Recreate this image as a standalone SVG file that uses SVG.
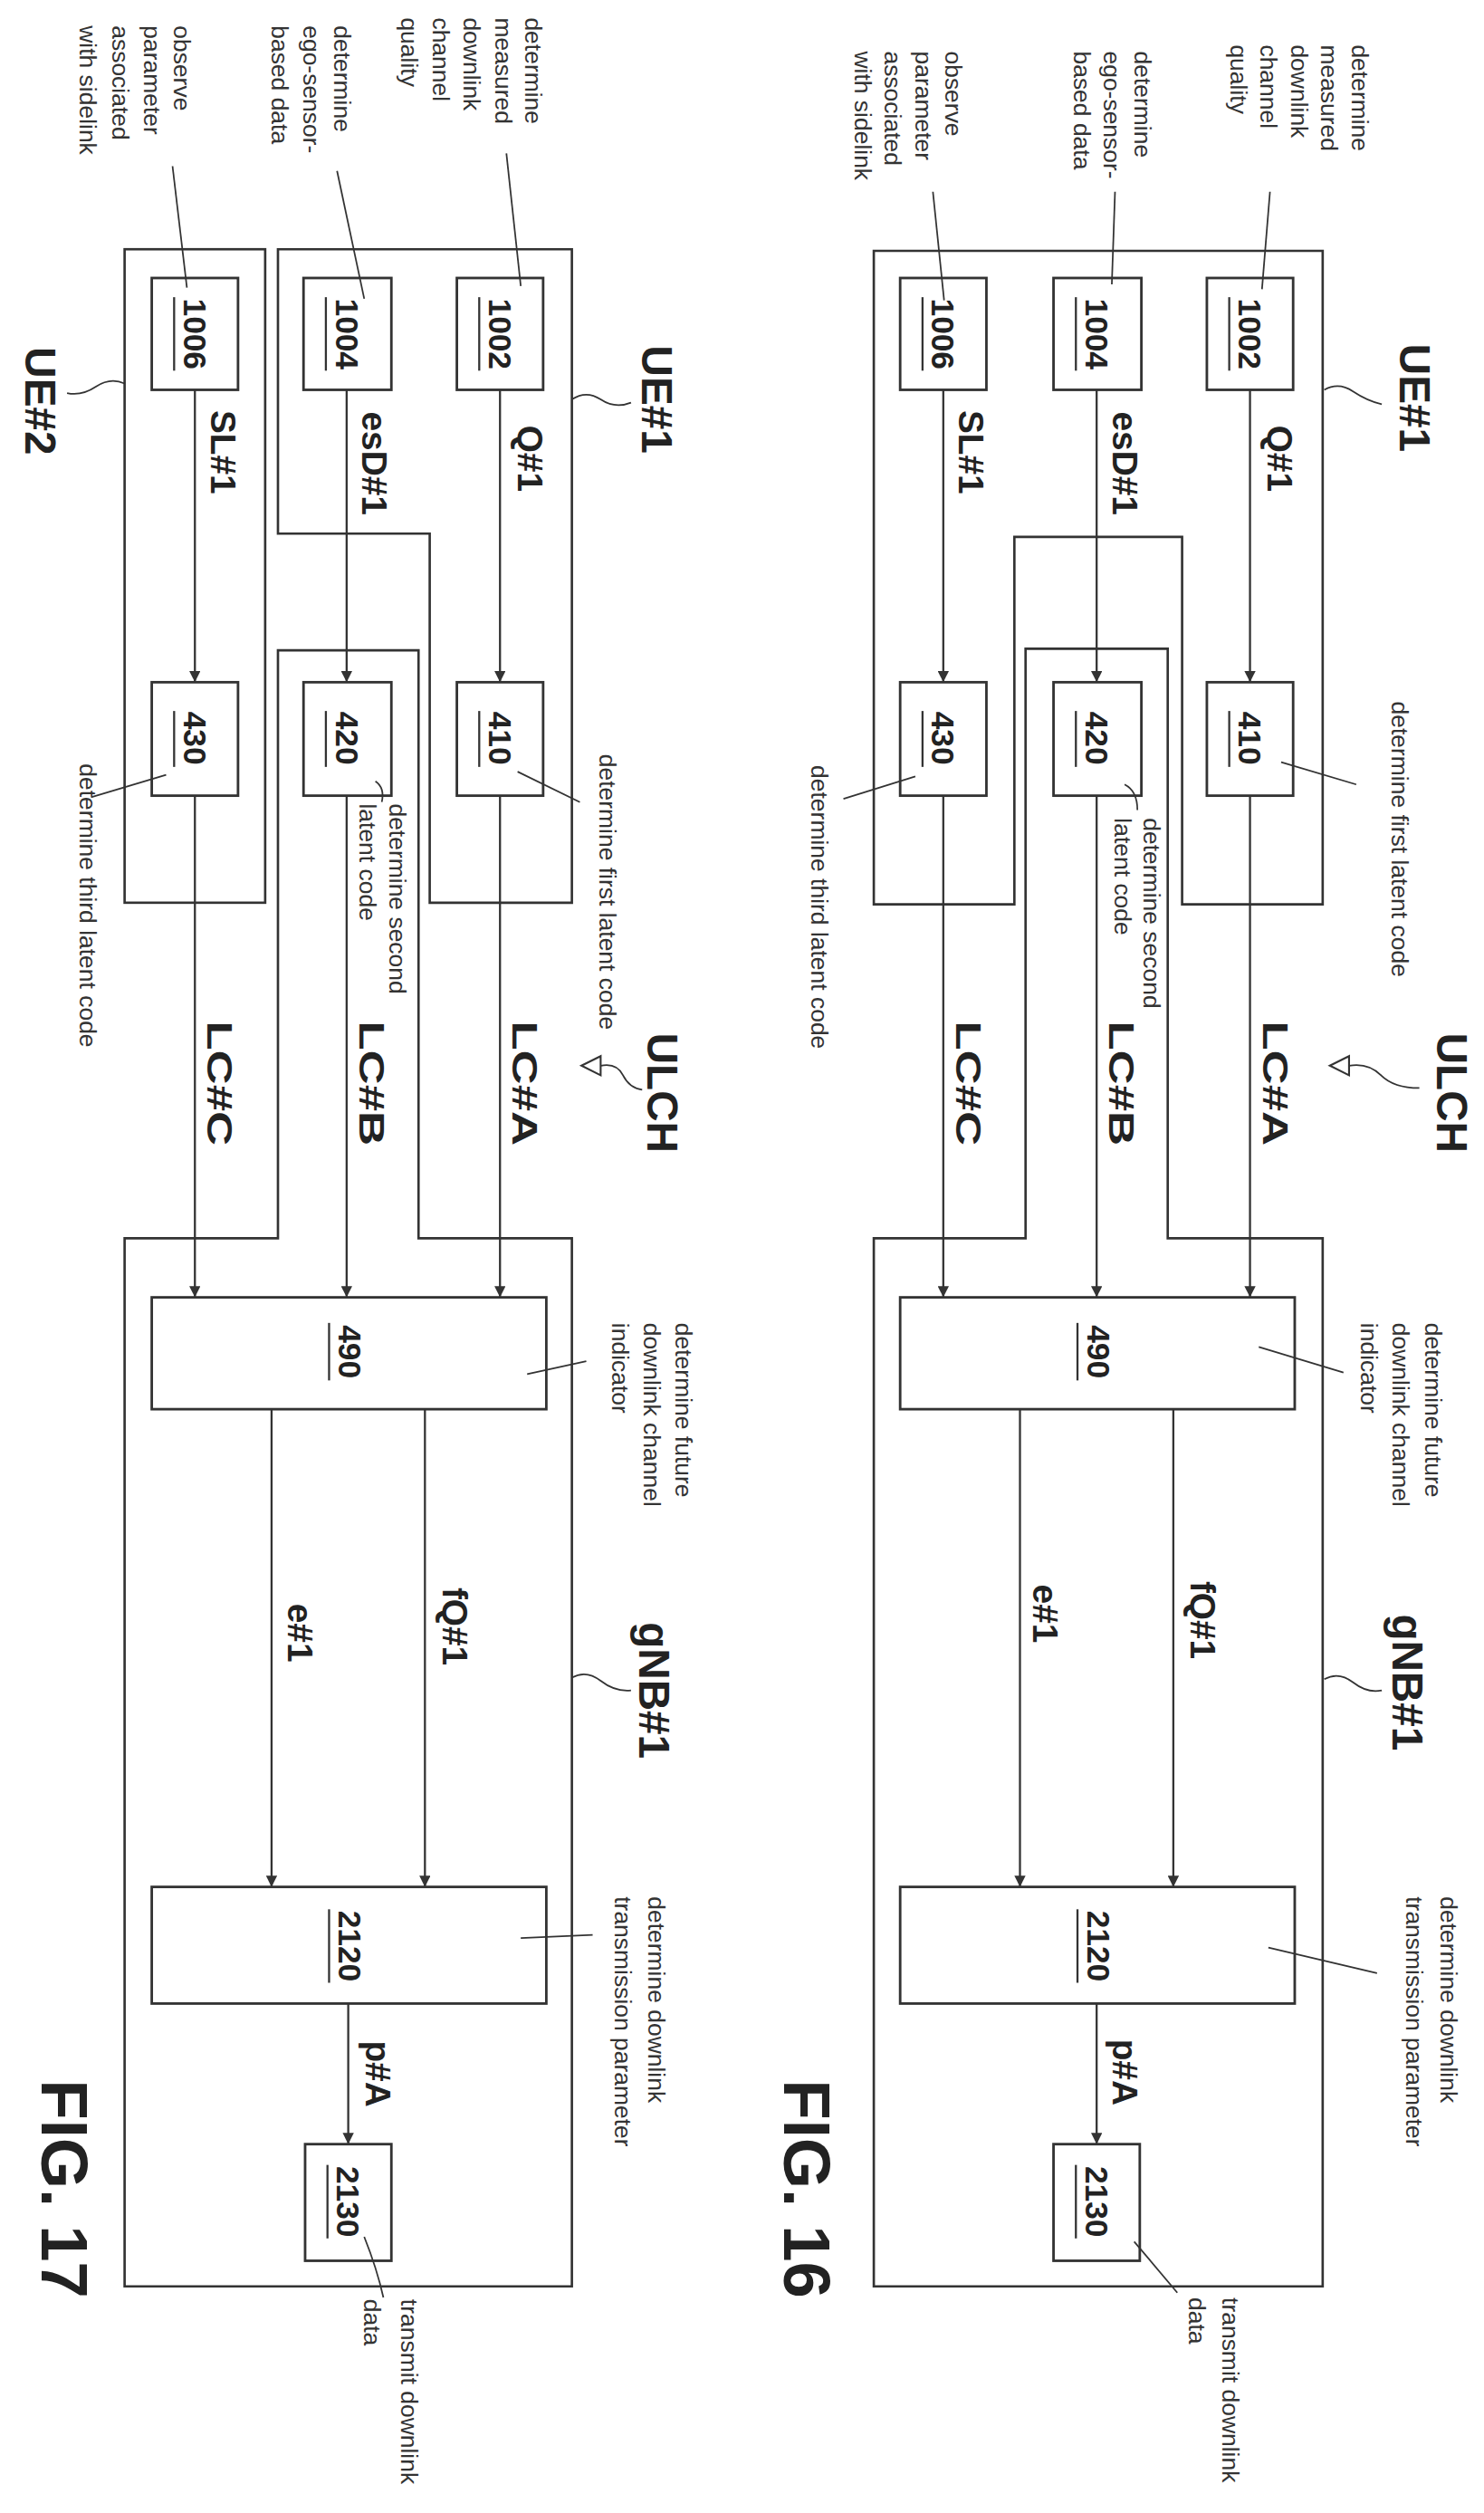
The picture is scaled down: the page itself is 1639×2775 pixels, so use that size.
<svg xmlns="http://www.w3.org/2000/svg" width="1639" height="2775" viewBox="0 0 1639 2775">
<style>
.bx{fill:none;stroke:#333;stroke-width:1.5}
.nd{fill:#fff;stroke:#333;stroke-width:1.6}
.cn{stroke:#333;stroke-width:1.3;fill:none}
.ld{stroke:#333;stroke-width:1;fill:none}
.d{font-family:"Liberation Sans",Arial,sans-serif;font-size:15px;fill:#333}
.b{font-family:"Liberation Sans",Arial,sans-serif;font-size:22px;font-weight:bold;fill:#222}
.n{font-family:"Liberation Sans",Arial,sans-serif;font-size:20px;font-weight:bold;fill:#222;text-anchor:middle}
.big{font-family:"Liberation Sans",Arial,sans-serif;font-size:27px;font-weight:bold;fill:#222}
.fig{font-family:"Liberation Sans",Arial,sans-serif;font-size:41px;font-weight:bold;fill:#222}
</style>
<defs>
<marker id="ah" markerUnits="userSpaceOnUse" markerWidth="8" markerHeight="7" refX="7" refY="3.5" orient="auto"><path d="M0,0 L7,3.5 L0,7 z" fill="#333"/></marker>
<g id="common">
</g>
</defs>
<rect width="1639" height="2775" fill="#fff"/>
<g transform="scale(1.7643)">
<!-- FIG 17 -->
<g id="fig17">
 <g id="f17-containers">
  <rect id="f17-UE2" class="bx" x="78" y="156" width="88" height="409"/>
  <path id="f17-UE1" class="bx" d="M174,156 H358 V565 H269 V334 H174 Z"/>
  <path id="f17-gNB1" class="bx" d="M78,775 H174 V407 H262 V775 H358 V1431 H78 Z"/>
 </g>
 <g id="f17-connectors">
  <line class="cn" x1="122" y1="244" x2="122" y2="427" marker-end="url(#ah)"/>
  <line class="cn" x1="217" y1="244" x2="217" y2="427" marker-end="url(#ah)"/>
  <line class="cn" x1="313" y1="244" x2="313" y2="427" marker-end="url(#ah)"/>
  <line class="cn" x1="122" y1="498" x2="122" y2="812" marker-end="url(#ah)"/>
  <line class="cn" x1="217" y1="498" x2="217" y2="812" marker-end="url(#ah)"/>
  <line class="cn" x1="313" y1="498" x2="313" y2="812" marker-end="url(#ah)"/>
  <line class="cn" x1="170" y1="882" x2="170" y2="1181" marker-end="url(#ah)"/>
  <line class="cn" x1="266" y1="882" x2="266" y2="1181" marker-end="url(#ah)"/>
  <line class="cn" x1="218" y1="1254" x2="218" y2="1342" marker-end="url(#ah)"/>
  <text class="b" transform="translate(324,287) rotate(90)" text-anchor="middle">Q#1</text>
  <text class="b" transform="translate(227,290) rotate(90)" text-anchor="middle">esD#1</text>
  <text class="b" transform="translate(132,283) rotate(90)" text-anchor="middle">SL#1</text>
  <text class="b" transform="translate(321,678) rotate(90)" text-anchor="middle" textLength="78" lengthAdjust="spacingAndGlyphs">LC#A</text>
  <text class="b" transform="translate(225,678) rotate(90)" text-anchor="middle" textLength="78" lengthAdjust="spacingAndGlyphs">LC#B</text>
  <text class="b" transform="translate(130,678) rotate(90)" text-anchor="middle" textLength="78" lengthAdjust="spacingAndGlyphs">LC#C</text>
  <text class="b" transform="translate(277,1018) rotate(90)" text-anchor="middle">fQ#1</text>
  <text class="b" transform="translate(180,1022) rotate(90)" text-anchor="middle">e#1</text>
  <text class="b" transform="translate(229,1298) rotate(90)" text-anchor="middle">p#A</text>
 </g>
 <g id="f17-n1002"><rect class="nd" x="286" y="174" width="54" height="70"/><text class="n" transform="translate(306,209) rotate(90)">1002</text><line class="cn" x1="300" y1="186" x2="300" y2="232"/></g>
 <g id="f17-n1004"><rect class="nd" x="190" y="174" width="55" height="70"/><text class="n" transform="translate(210,209) rotate(90)">1004</text><line class="cn" x1="204" y1="186" x2="204" y2="232"/></g>
 <g id="f17-n1006"><rect class="nd" x="95" y="174" width="54" height="70"/><text class="n" transform="translate(115,209) rotate(90)">1006</text><line class="cn" x1="109" y1="186" x2="109" y2="232"/></g>
 <g id="f17-n410"><rect class="nd" x="286" y="427" width="54" height="71"/><text class="n" transform="translate(306,462) rotate(90)">410</text><line class="cn" x1="300" y1="445" x2="300" y2="480"/></g>
 <g id="f17-n420"><rect class="nd" x="190" y="427" width="55" height="71"/><text class="n" transform="translate(210,462) rotate(90)">420</text><line class="cn" x1="204" y1="445" x2="204" y2="480"/></g>
 <g id="f17-n430"><rect class="nd" x="95" y="427" width="54" height="71"/><text class="n" transform="translate(115,462) rotate(90)">430</text><line class="cn" x1="109" y1="445" x2="109" y2="480"/></g>
 <g id="f17-n490"><rect class="nd" x="95" y="812" width="247" height="70"/><text class="n" transform="translate(212,846) rotate(90)">490</text><line class="cn" x1="206" y1="828" x2="206" y2="864"/></g>
 <g id="f17-n2120"><rect class="nd" x="95" y="1181" width="247" height="73"/><text class="n" transform="translate(212,1218) rotate(90)">2120</text><line class="cn" x1="206" y1="1195" x2="206" y2="1241"/></g>
 <g id="f17-n2130"><rect class="nd" x="191" y="1342" width="54" height="73"/><text class="n" transform="translate(211,1378) rotate(90)">2130</text><line class="cn" x1="205" y1="1355" x2="205" y2="1401"/></g>
 <g id="f17-labels">
  <text class="big" transform="translate(402,250) rotate(90)" text-anchor="middle">UE#1</text>
  <path class="ld" d="M358,250 q9,-6 18,0 t19,2"/>
  <text class="big" transform="translate(16,251) rotate(90)" text-anchor="middle">UE#2</text>
  <path class="ld" d="M78,240 q-9,-4 -18,2 t-18,4"/>
  <text class="big" transform="translate(400,1058) rotate(90)" text-anchor="middle">gNB#1</text>
  <path class="ld" d="M358,1050 q9,-5 18,2 t19,6"/>
  <text class="big" transform="translate(405,684) rotate(90)" text-anchor="middle">ULCH</text>
  <polygon points="364,667 376,661 376,673" fill="#fff" stroke="#333" stroke-width="1.2"/>
  <path class="ld" d="M376,667 q10,-2 14,6 t12,9"/>
  <text class="fig" transform="translate(26,1370) rotate(90)" text-anchor="middle">FIG. 17</text>
  <text class="d" transform="translate(329,11) rotate(90)">determine</text>
  <text class="d" transform="translate(310,11) rotate(90)">measured</text>
  <text class="d" transform="translate(290,11) rotate(90)">downlink</text>
  <text class="d" transform="translate(271,11) rotate(90)">channel</text>
  <text class="d" transform="translate(251,11) rotate(90)">quality</text>
  <line class="ld" x1="317" y1="96" x2="326" y2="179"/>
  <text class="d" transform="translate(209,16) rotate(90)">determine</text>
  <text class="d" transform="translate(190,16) rotate(90)">ego-sensor-</text>
  <text class="d" transform="translate(170,16) rotate(90)">based data</text>
  <line class="ld" x1="211" y1="107" x2="228" y2="187"/>
  <text class="d" transform="translate(109,16) rotate(90)">observe</text>
  <text class="d" transform="translate(90,16) rotate(90)">parameter</text>
  <text class="d" transform="translate(70,16) rotate(90)">associated</text>
  <text class="d" transform="translate(50,16) rotate(90)">with sidelink</text>
  <line class="ld" x1="108" y1="104" x2="117" y2="180"/>
  <text class="d" transform="translate(375,472) rotate(90)">determine first latent code</text>
  <line class="ld" x1="324" y1="483" x2="363" y2="502"/>
  <text class="d" transform="translate(244,503) rotate(90)">determine second</text>
  <text class="d" transform="translate(225,503) rotate(90)">latent code</text>
  <path class="ld" d="M235,489 q6,4 4,13"/>
  <text class="d" transform="translate(50,478) rotate(90)">determine third latent code</text>
  <line class="ld" x1="104" y1="485" x2="57" y2="499"/>
  <text class="d" transform="translate(423,828) rotate(90)">determine future</text>
  <text class="d" transform="translate(403,828) rotate(90)">downlink channel</text>
  <text class="d" transform="translate(383,828) rotate(90)">indicator</text>
  <line class="ld" x1="330" y1="860" x2="367" y2="852"/>
  <text class="d" transform="translate(406,1187) rotate(90)">determine downlink</text>
  <text class="d" transform="translate(385,1187) rotate(90)">transmission parameter</text>
  <line class="ld" x1="326" y1="1213" x2="371" y2="1211"/>
  <text class="d" transform="translate(251,1439) rotate(90)">transmit downlink</text>
  <text class="d" transform="translate(228,1439) rotate(90)">data</text>
  <path class="ld" d="M228,1400 q8,20 12,38"/>
 </g>
</g>
<!-- FIG 16 -->
<g id="fig16" transform="translate(468.5,0)">
 <g id="f16-containers">
  <path id="f16-UE1" class="bx" d="M78.5,157 H359.5 V566 H271.5 V336 H166.5 V566 H78.5 Z"/>
  <path id="f16-gNB1" class="bx" d="M78.5,775 H173.5 V406 H262.5 V775 H359.5 V1431 H78.5 Z"/>
 </g>
 <g id="f16-connectors">
  <line class="cn" x1="122" y1="244" x2="122" y2="427" marker-end="url(#ah)"/>
  <line class="cn" x1="218" y1="244" x2="218" y2="427" marker-end="url(#ah)"/>
  <line class="cn" x1="314" y1="244" x2="314" y2="427" marker-end="url(#ah)"/>
  <line class="cn" x1="122" y1="498" x2="122" y2="812" marker-end="url(#ah)"/>
  <line class="cn" x1="218" y1="498" x2="218" y2="812" marker-end="url(#ah)"/>
  <line class="cn" x1="314" y1="498" x2="314" y2="812" marker-end="url(#ah)"/>
  <line class="cn" x1="170" y1="882" x2="170" y2="1181" marker-end="url(#ah)"/>
  <line class="cn" x1="266" y1="882" x2="266" y2="1181" marker-end="url(#ah)"/>
  <line class="cn" x1="218" y1="1254" x2="218" y2="1342" marker-end="url(#ah)"/>
  <text class="b" transform="translate(325,287) rotate(90)" text-anchor="middle">Q#1</text>
  <text class="b" transform="translate(228,290) rotate(90)" text-anchor="middle">esD#1</text>
  <text class="b" transform="translate(132,283) rotate(90)" text-anchor="middle">SL#1</text>
  <text class="b" transform="translate(322,678) rotate(90)" text-anchor="middle" textLength="78" lengthAdjust="spacingAndGlyphs">LC#A</text>
  <text class="b" transform="translate(226,678) rotate(90)" text-anchor="middle" textLength="78" lengthAdjust="spacingAndGlyphs">LC#B</text>
  <text class="b" transform="translate(130,678) rotate(90)" text-anchor="middle" textLength="78" lengthAdjust="spacingAndGlyphs">LC#C</text>
  <text class="b" transform="translate(277,1014) rotate(90)" text-anchor="middle">fQ#1</text>
  <text class="b" transform="translate(178,1010) rotate(90)" text-anchor="middle">e#1</text>
  <text class="b" transform="translate(228,1297) rotate(90)" text-anchor="middle">p#A</text>
 </g>
 <g id="f16-n1002"><rect class="nd" x="287" y="174" width="54" height="70"/><text class="n" transform="translate(307,209) rotate(90)">1002</text><line class="cn" x1="301" y1="186" x2="301" y2="232"/></g>
 <g id="f16-n1004"><rect class="nd" x="191" y="174" width="55" height="70"/><text class="n" transform="translate(211,209) rotate(90)">1004</text><line class="cn" x1="205" y1="186" x2="205" y2="232"/></g>
 <g id="f16-n1006"><rect class="nd" x="95" y="174" width="54" height="70"/><text class="n" transform="translate(115,209) rotate(90)">1006</text><line class="cn" x1="109" y1="186" x2="109" y2="232"/></g>
 <g id="f16-n410"><rect class="nd" x="287" y="427" width="54" height="71"/><text class="n" transform="translate(307,462) rotate(90)">410</text><line class="cn" x1="301" y1="445" x2="301" y2="480"/></g>
 <g id="f16-n420"><rect class="nd" x="191" y="427" width="55" height="71"/><text class="n" transform="translate(211,462) rotate(90)">420</text><line class="cn" x1="205" y1="445" x2="205" y2="480"/></g>
 <g id="f16-n430"><rect class="nd" x="95" y="427" width="54" height="71"/><text class="n" transform="translate(115,462) rotate(90)">430</text><line class="cn" x1="109" y1="445" x2="109" y2="480"/></g>
 <g id="f16-n490"><rect class="nd" x="95" y="812" width="247" height="70"/><text class="n" transform="translate(212,846) rotate(90)">490</text><line class="cn" x1="206" y1="828" x2="206" y2="864"/></g>
 <g id="f16-n2120"><rect class="nd" x="95" y="1181" width="247" height="73"/><text class="n" transform="translate(212,1218) rotate(90)">2120</text><line class="cn" x1="206" y1="1195" x2="206" y2="1241"/></g>
 <g id="f16-n2130"><rect class="nd" x="191" y="1342" width="54" height="73"/><text class="n" transform="translate(211,1378) rotate(90)">2130</text><line class="cn" x1="205" y1="1355" x2="205" y2="1401"/></g>
 <g id="f16-labels">
  <text class="big" transform="translate(408,249) rotate(90)" text-anchor="middle">UE#1</text>
  <path class="ld" d="M360.5,244 q9,-5 18,1 t18,8"/>
  <text class="big" transform="translate(403,1053) rotate(90)" text-anchor="middle">gNB#1</text>
  <path class="ld" d="M360.5,1051 q9,-5 18,2 t18,5"/>
  <text class="big" transform="translate(431,684) rotate(90)" text-anchor="middle">ULCH</text>
  <polygon points="364,667 376,661 376,673" fill="#fff" stroke="#333" stroke-width="1.2"/>
  <path class="ld" d="M376,667 q12,-2 20,6 t24,8"/>
  <text class="fig" transform="translate(22.5,1370) rotate(90)" text-anchor="middle">FIG. 16</text>
  <text class="d" transform="translate(377.5,28) rotate(90)">determine</text>
  <text class="d" transform="translate(358.5,28) rotate(90)">measured</text>
  <text class="d" transform="translate(339.5,28) rotate(90)">downlink</text>
  <text class="d" transform="translate(320.5,28) rotate(90)">channel</text>
  <text class="d" transform="translate(301.5,28) rotate(90)">quality</text>
  <line class="ld" x1="326.5" y1="120" x2="321.5" y2="181"/>
  <text class="d" transform="translate(241.5,32) rotate(90)">determine</text>
  <text class="d" transform="translate(222.5,32) rotate(90)">ego-sensor-</text>
  <text class="d" transform="translate(203.5,32) rotate(90)">based data</text>
  <line class="ld" x1="229.5" y1="120" x2="227.5" y2="178"/>
  <text class="d" transform="translate(123.5,32) rotate(90)">observe</text>
  <text class="d" transform="translate(104.5,32) rotate(90)">parameter</text>
  <text class="d" transform="translate(85.5,32) rotate(90)">associated</text>
  <text class="d" transform="translate(66.5,32) rotate(90)">with sidelink</text>
  <line class="ld" x1="115.5" y1="120" x2="122.5" y2="188"/>
  <text class="d" transform="translate(402.5,439) rotate(90)">determine first latent code</text>
  <line class="ld" x1="380.5" y1="491" x2="333.5" y2="477"/>
  <text class="d" transform="translate(247.5,512) rotate(90)">determine second</text>
  <text class="d" transform="translate(229.5,512) rotate(90)">latent code</text>
  <path class="ld" d="M235.5,491 q8,4 8,16"/>
  <text class="d" transform="translate(39.5,479) rotate(90)">determine third latent code</text>
  <line class="ld" x1="59.5" y1="500" x2="104.5" y2="486"/>
  <text class="d" transform="translate(423.5,828) rotate(90)">determine future</text>
  <text class="d" transform="translate(403.5,828) rotate(90)">downlink channel</text>
  <text class="d" transform="translate(383.5,828) rotate(90)">indicator</text>
  <line class="ld" x1="372.5" y1="859" x2="319.5" y2="843"/>
  <text class="d" transform="translate(433.5,1187) rotate(90)">determine downlink</text>
  <text class="d" transform="translate(411.5,1187) rotate(90)">transmission parameter</text>
  <line class="ld" x1="393.5" y1="1235" x2="325.5" y2="1219"/>
  <text class="d" transform="translate(296.5,1438) rotate(90)">transmit downlink</text>
  <text class="d" transform="translate(275.5,1438) rotate(90)">data</text>
  <line class="ld" x1="268.5" y1="1435" x2="241.5" y2="1403"/>
 </g>
</g>
</g>
</svg>
